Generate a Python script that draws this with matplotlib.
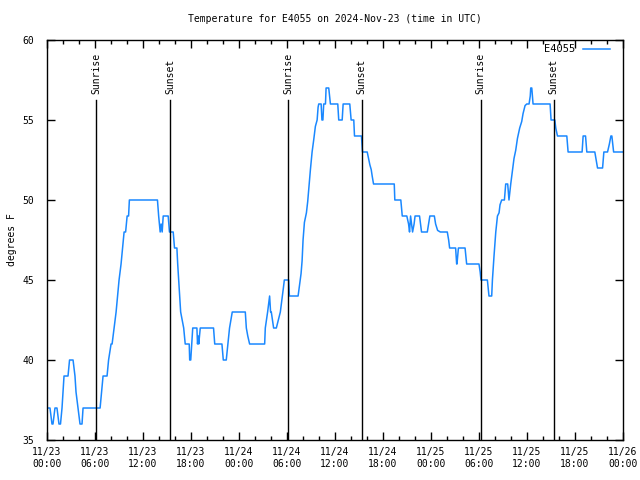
import matplotlib
matplotlib.use("Agg")
import matplotlib.pyplot as plt
from matplotlib.ticker import MultipleLocator

# hours since 2024-11-23 00:00 UTC
hours = [0.125, 0.376, 0.626, 0.751, 1.0, 1.25, 1.5, 1.69, 1.88, 2.0, 2.13, 2.63, 2.82, 3.26,
         3.5, 3.63, 3.88, 4.13, 4.38, 4.51, 6.64, 6.82, 7.01, 7.51, 7.7, 8.01, 8.14, 8.39,
         8.64, 8.83, 9.01, 9.26, 9.45, 9.64, 9.83, 10.02, 10.2, 10.3, 13.81, 13.96, 14.15,
         14.27, 14.4, 14.53, 15.15, 15.31, 15.78, 15.94, 16.24, 16.34, 16.46, 16.59, 16.71,
         16.9, 17.09, 17.28, 17.78, 17.84, 17.97, 18.09, 18.22, 18.74, 18.82, 18.91, 18.97,
         19.16, 20.82, 20.97, 21.87, 22.04, 22.41, 22.62, 22.82, 23.16, 24.79, 24.92, 25.1,
         25.33, 27.21, 27.29, 27.58, 27.83, 27.95, 28.04, 28.33, 28.67, 28.92, 29.17, 29.3,
         29.55, 29.67, 30.21, 30.3, 31.39, 31.55, 31.76, 31.89, 32.01, 32.18, 32.43, 32.59,
         32.77, 32.93, 33.14, 33.34, 33.55, 33.77, 33.89, 33.97, 34.27, 34.37, 34.49, 34.59,
         34.81, 34.89, 35.22, 35.43, 36.35, 36.47, 36.9, 37.02, 37.85, 38.02, 38.35, 38.44,
         39.31, 39.44, 40.03, 40.19, 40.36, 40.53, 40.65, 40.82, 43.41, 43.48, 44.23, 44.41,
         44.98, 45.2, 45.32, 45.45, 45.57, 45.7, 45.89, 46.01, 46.57, 46.82, 47.54, 47.7,
         47.86, 48.42, 48.58, 48.83, 49.17, 50.04, 50.21, 50.33, 51.08, 51.21, 51.25, 51.43,
         52.26, 52.46, 54.0, 54.15, 54.25, 55.05, 55.25, 55.59, 55.68, 55.88, 56.1, 56.31,
         56.51, 56.63, 56.84, 57.18, 57.34, 57.59, 57.75, 57.97, 58.18, 58.38, 58.59, 58.81,
         59.09, 59.34, 59.51, 59.76, 59.97, 60.26, 60.41, 60.47, 60.6, 60.68, 60.76, 62.89,
         63.01, 63.48, 63.6, 63.81, 64.98, 65.14, 66.89, 67.02, 67.32, 67.48, 68.48, 68.82,
         69.45, 69.61, 70.07, 70.3, 70.49, 70.61, 70.83, 72.0]
temps = [37, 37, 36, 36, 37, 37, 36, 36, 37, 38, 39, 39, 40, 40,
         39, 38, 37, 36, 36, 37, 37, 38, 39, 39, 40, 41, 41, 42,
         43, 44, 45, 46, 47, 48, 48, 49, 49, 50, 50, 49, 48,
         48.5, 48, 49, 49, 48, 48, 47, 47, 46, 45, 44, 43,
         42.5, 42, 41, 41, 40, 40, 41, 42, 42, 41, 41.5, 41,
         42, 42, 41, 41, 40, 40, 41, 42, 43, 43, 42, 41.5,
         41, 41, 42, 43, 44, 43, 43, 42, 42, 42.5, 43, 43.5,
         44.5, 45, 45, 44, 44, 44.6, 45.4, 46.2, 47.5, 48.6, 49.2, 49.9,
         51, 51.9, 53, 53.75, 54.6, 55, 55.8, 56, 56, 55, 55, 56,
         56, 57, 57, 56, 56, 55, 55, 56, 56, 55, 55, 54,
         54, 53, 53, 52.6, 52.2, 51.9, 51.5, 51, 51, 50, 50, 49,
         49, 48.5, 48, 49, 48.5, 48, 48.5, 49, 49, 48, 48, 48.5,
         49, 49, 48.5, 48.1, 48, 48, 47.5, 47, 47, 46, 46, 47,
         47, 46, 46, 45.5, 45, 45, 44, 44, 45, 46.5, 48, 49,
         49.2, 49.7, 50, 50, 51, 51, 50, 51, 51.8, 52.6, 53.1, 53.85,
         54.5, 54.9, 55.4, 55.9, 56, 56, 56.5, 57, 57, 56.5, 56, 56,
         55, 55, 54.5, 54, 54, 53, 53, 54, 54, 53, 53, 52,
         52, 53, 53, 53.5, 54, 54, 53, 53]

sun_hours = [6.14, 15.40, 30.18, 39.32, 54.22, 63.36]
sun_names = ["Sunrise", "Sunset", "Sunrise", "Sunset", "Sunrise", "Sunset"]

tick_hours = list(range(0, 73, 6))
tick_labels = ["11/23\n00:00", "11/23\n06:00", "11/23\n12:00", "11/23\n18:00",
               "11/24\n00:00", "11/24\n06:00", "11/24\n12:00", "11/24\n18:00",
               "11/25\n00:00", "11/25\n06:00", "11/25\n12:00", "11/25\n18:00",
               "11/26\n00:00"]

plt.rcParams["font.family"] = "DejaVu Sans Mono"
plt.rcParams["font.size"] = 7

fig = plt.figure(figsize=(6.4, 4.8), dpi=100)
ax = fig.add_axes([0.0734, 0.0833, 0.9, 0.8334])

ax.plot(hours, temps, color="#1a88ff", lw=1.1, label="E4055")

#sunrise / sunset markers
for h, name in zip(sun_hours, sun_names):
    ax.plot([h, h], [35, 56.25], color="black", lw=1)
    ax.text(h, 56.65, name, rotation=90, ha="center", va="bottom", fontsize=7)

ax.set_xlim(0, 72)
ax.set_ylim(35, 60)
ax.set_xticks(tick_hours)
ax.set_xticklabels(tick_labels)
ax.xaxis.set_minor_locator(MultipleLocator(2))
ax.set_yticks(range(35, 61, 5))

ax.tick_params(which="both", direction="in", top=True, right=True, width=1)
ax.tick_params(which="major", length=6)
ax.tick_params(axis="x", which="major", pad=5)
ax.tick_params(axis="y", which="major", pad=9)
ax.tick_params(which="minor", length=3)
for s in ax.spines.values():
    s.set_linewidth(1)

ax.set_ylabel("degrees F", labelpad=4)
ax.set_title("Temperature for E4055 on 2024-Nov-23 (time in UTC)", pad=13, fontsize=7)

ax.legend(loc="upper right", bbox_to_anchor=(0.985, 1.0), frameon=False,
          markerfirst=False, handlelength=2.6, borderaxespad=0.0,
          handletextpad=0.8, fontsize=7.5)

plt.savefig("out.png", dpi=100)
